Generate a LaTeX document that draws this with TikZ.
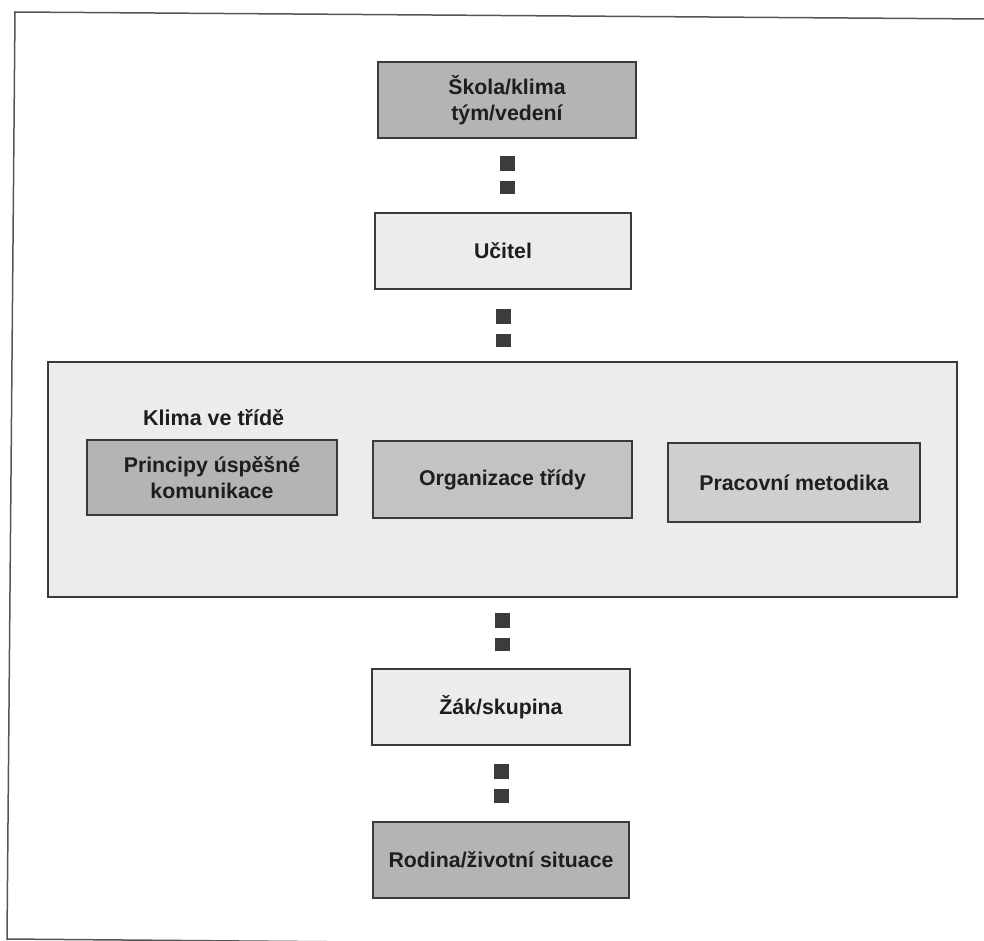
\documentclass[tikz,border=0pt]{standalone}
\usepackage{fontspec}
\setmainfont{Liberation Sans}
\definecolor{frameline}{HTML}{555555}
\definecolor{boxline}{HTML}{3A3A3A}
\definecolor{darkfill}{HTML}{B4B4B4}
\definecolor{midfill}{HTML}{C3C3C3}
\definecolor{litefill}{HTML}{CFCFCF}
\definecolor{palefill}{HTML}{ECECEE}
\definecolor{sqcol}{HTML}{3C3C3C}
\definecolor{txt}{HTML}{1E1E1E}
\begin{document}
\begin{tikzpicture}[x=1pt,y=-1pt,
  box/.style={draw=boxline, line width=1.2pt, inner sep=0pt, align=center,
    font=\fontsize{21.3}{26}\selectfont\bfseries, text=txt},
  label/.style={inner sep=0pt, font=\fontsize{21.5}{26}\selectfont\bfseries, text=txt},
  sq/.style={draw=sqcol, line width=15pt, dash pattern=on 15pt off 10pt}]
\useasboundingbox (0,0) rectangle (984,941);
\clip (0,0) rectangle (984,941);
% outer page frame (open on the right)
\draw[frameline, line width=1.5pt] (1000,19.1) -- (15,12) -- (7,939) -- (1000,947.5);
% boxes
\node[box, fill=darkfill, minimum width=258pt, minimum height=76pt] (skola) at (507,100) {Škola/klima\\tým/vedení};
\node[box, fill=palefill, minimum width=256pt, minimum height=76pt] (ucitel) at (503,251) {Učitel};
\node[box, fill=palefill, minimum width=909pt, minimum height=235pt] (klima) at (502.5,479.5) {};
\node[label, anchor=base west] (klimatxt) at (143,425) {Klima ve třídě};
\node[box, fill=darkfill, minimum width=250pt, minimum height=75pt] (principy) at (212,477.5) {Principy úspěšné\\komunikace};
\node[box, fill=midfill, minimum width=259pt, minimum height=77pt] (organizace) at (502.5,479.5) {Organizace třídy};
\node[box, fill=litefill, minimum width=252pt, minimum height=79pt] (metodika) at (794,482.5) {Pracovní metodika};
\node[box, fill=palefill, minimum width=258pt, minimum height=76pt] (zak) at (501,707) {Žák/skupina};
\node[box, fill=darkfill, minimum width=256pt, minimum height=76pt] (rodina) at (501,860) {Rodina/životní situace};
% square-dot connectors
\draw[sq, shorten <=17pt, shorten >=18pt] (skola.south) -- (skola.south |- ucitel.north);
\draw[sq, shorten <=19pt, shorten >=14pt] (ucitel.south) -- (ucitel.south |- klima.north);
\draw[sq, shorten <=15pt, shorten >=17pt] (klima.south) -- (klima.south |- zak.north);
\draw[sq, shorten <=18pt, shorten >=18pt] (zak.south) -- (zak.south |- rodina.north);
\end{tikzpicture}
\end{document}
